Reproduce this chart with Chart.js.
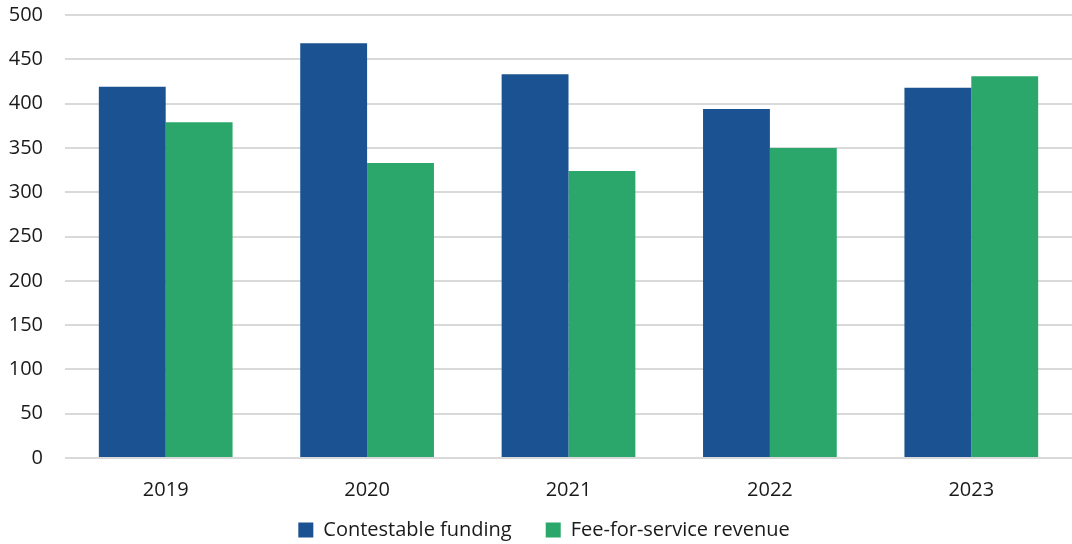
<!DOCTYPE html>
<html>
<head>
<meta charset="utf-8">
<script src="https://cdn.jsdelivr.net/npm/chart.js@4"></script>
<style>
  body { margin: 0; background: #fff; }
  #wrap { width: 1072px; height: 544px; }
</style>
</head>
<body>
<div id="wrap"><canvas id="chart"></canvas></div>
<script>
const years = ['2019', '2020', '2021', '2022', '2023'];
const contestable = [419, 468, 433, 394, 418];
const feeForService = [379, 333, 324, 350, 431];

Chart.defaults.font.family = '"Open Sans", "Noto Sans", sans-serif';
Chart.defaults.font.size = 20;
Chart.defaults.color = '#1a1a1a';

const legendPad = 34;

// legend keeps wide gaps between items but only takes a thin strip at the bottom
const legendStrip = {
  id: 'legendStrip',
  beforeInit(chart) {
    const legend = chart.legend;
    const fit = legend.fit;
    legend.fit = function () {
      fit.call(this);
      this._fullHeight = this.height;
      this.height = 22;
    };
  },
  afterLayout(chart) {
    const l = chart.legend;
    l.top = 529 - legendPad - 9;
    l.bottom = l.top + l._fullHeight;
    l.left += 8;
    l.right += 8;
  },
};

new Chart(document.getElementById('chart'), {
  type: 'bar',
  data: {
    labels: years,
    datasets: [
      { label: 'Contestable funding', data: contestable, backgroundColor: '#1b5291' },
      { label: 'Fee-for-service revenue', data: feeForService, backgroundColor: '#2ba76b' },
    ],
  },
  options: {
    responsive: true,
    maintainAspectRatio: false,
    animation: false,
    layout: { padding: 0 },
    datasets: { bar: { categoryPercentage: 0.664, barPercentage: 1 } },
    plugins: {
      tooltip: { enabled: false },
      legend: {
        position: 'bottom',
        labels: { boxWidth: 15, boxHeight: 15, padding: legendPad, font: { size: 20 } },
      },
    },
    scales: {
      x: {
        grid: { display: false, drawTicks: false },
        border: { display: false },
        ticks: { padding: 20 },
      },
      y: {
        min: 0,
        max: 500,
        ticks: { stepSize: 50, padding: 3 },
        grid: { color: '#d9d9d9', lineWidth: 2, tickLength: 19, tickColor: 'rgba(0,0,0,0)' },
        border: { display: false },
        afterFit: (s) => { s.width = 65; },
      },
    },
  },
  plugins: [legendStrip],
});
</script>
</body>
</html>
